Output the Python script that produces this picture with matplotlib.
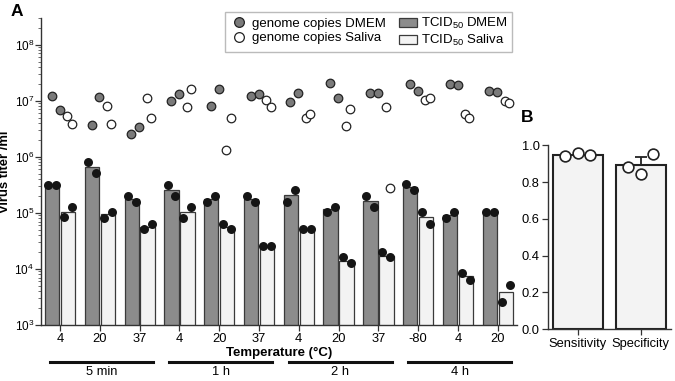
import numpy as np
import matplotlib
matplotlib.use('Agg')
import matplotlib.pyplot as plt
from matplotlib.lines import Line2D
from matplotlib.patches import Patch
from matplotlib.ticker import LogLocator, NullFormatter

plt.rcParams['font.family'] = ['Liberation Sans', 'DejaVu Sans']
plt.rcParams['mathtext.fontset'] = 'custom'
plt.rcParams['mathtext.rm'] = 'Liberation Sans'
plt.rcParams['mathtext.it'] = 'Liberation Sans:italic'
plt.rcParams['mathtext.bf'] = 'Liberation Sans:bold'

# Panel A data
temps = ['4', '20', '37', '4', '20', '37', '4', '20', '37', '-80', '4', '20']
times = ['5 min', '1 h', '2 h', '4 h']

genome_dmem = [[1.2e7, 6.9e6], [3.7e6, 1.16e7], [2.6e6, 3.4e6], [1.0e7, 1.3e7],
               [8.1e6, 1.6e7], [1.2e7, 1.3e7], [9.3e6, 1.35e7], [2.1e7, 1.12e7],
               [1.35e7, 1.35e7], [2.0e7, 1.5e7], [2.0e7, 1.9e7], [1.5e7, 1.45e7]]
genome_saliva = [[5.4e6, 3.8e6], [8.1e6, 3.9e6], [1.12e7, 5.0e6], [7.6e6, 1.6e7],
                 [1.3e6, 5.0e6], [1.05e7, 7.7e6], [5.0e6, 5.7e6], [3.6e6, 7.1e6],
                 [7.8e6, 2.8e5], [1.05e7, 1.12e7], [5.7e6, 5.0e6], [1.0e7, 9.1e6]]

tcid_dmem = [3.2e5, 6.6e5, 1.8e5, 2.6e5, 1.8e5, 1.8e5, 2.1e5, 1.15e5, 1.6e5, 2.9e5, 9.0e4, 1.0e5]
tcid_dmem_pts = [[3.2e5, 3.2e5], [8.1e5, 5.1e5], [2.0e5, 1.58e5], [3.2e5, 2.0e5],
                 [1.58e5, 2.0e5], [2.0e5, 1.58e5], [1.58e5, 2.6e5], [1.02e5, 1.28e5],
                 [2.0e5, 1.28e5], [3.3e5, 2.6e5], [8.1e4, 1.02e5], [1.02e5, 1.02e5]]
tcid_saliva = [1.05e5, 9.5e4, 5.7e4, 1.05e5, 5.7e4, 2.5e4, 5.0e4, 1.4e4, 1.7e4, 8.3e4, 7.6e3, 3.8e3]
tcid_saliva_pts = [[8.3e4, 1.28e5], [8.0e4, 1.02e5], [5.1e4, 6.4e4], [8.0e4, 1.28e5],
                   [6.4e4, 5.1e4], [2.6e4, 2.6e4], [5.1e4, 5.1e4], [1.6e4, 1.3e4],
                   [2.0e4, 1.6e4], [1.02e5, 6.3e4], [8.5e3, 6.4e3], [2.6e3, 5.2e3]]

# Panel B data
b_labels = ['Sensitivity', 'Specificity']
b_means = [0.947, 0.893]
b_err = [0.0, 0.045]
b_pts = [[0.942, 0.956, 0.946], [0.884, 0.844, 0.953]]

dark = '#8c8c8c'
light = '#f3f3f3'
edge = '#3a3a3a'

fig = plt.figure(figsize=(6.75, 3.81), dpi=100)
ax = fig.add_axes([0.0607, 0.147, 0.705, 0.806])
x = np.arange(len(temps))

ax.bar(x - 0.2, tcid_dmem, width=0.36, color=dark, edgecolor=edge, linewidth=0.9, zorder=2)
ax.bar(x + 0.2, tcid_saliva, width=0.36, color=light, edgecolor=edge, linewidth=0.9, zorder=2)

for i in range(len(temps)):
    ax.scatter([i - 0.3, i - 0.1], tcid_dmem_pts[i], s=42, color='#151515', zorder=4, linewidths=0)
    ax.scatter([i + 0.1, i + 0.3], tcid_saliva_pts[i], s=42, color='#151515', zorder=4, linewidths=0)
    ax.scatter([i - 0.21, i - 0.01], genome_dmem[i], s=38, color='#7a7a7a',
               edgecolor='#222222', linewidths=0.9, zorder=4)
    ax.scatter([i + 0.18, i + 0.29], genome_saliva[i], s=38, color='white',
               edgecolor='#222222', linewidths=0.9, zorder=4)

ax.set_yscale('log')
ax.set_ylim(1e3, 3e8)
ax.set_xlim(-0.48, 11.48)
ax.yaxis.set_major_locator(LogLocator(base=10, numticks=10))
ax.yaxis.set_minor_locator(LogLocator(base=10, subs=np.arange(2, 10), numticks=20))
ax.yaxis.set_minor_formatter(NullFormatter())
ax.set_xticks(x)
ax.set_xticklabels(temps)
ax.tick_params(axis='both', which='major', labelsize=9.3, length=4, width=0.9, color='#333333', pad=2)
ax.tick_params(axis='y', which='major', labelsize=8.5, pad=1)
ax.tick_params(axis='y', which='minor', length=2, width=0.6, color='#555555')
for s in ['top', 'right']:
    ax.spines[s].set_visible(False)
for s in ['left', 'bottom']:
    ax.spines[s].set_linewidth(1.0)
    ax.spines[s].set_color('#333333')
ax.set_ylabel('Virus titer /ml', fontsize=9.4, fontweight='bold')
ax.yaxis.set_label_coords(-0.064, 0.5)
ax.set_xlabel('Temperature (°C)', fontsize=9.5, fontweight='bold', labelpad=1)

# time groups under the axis
trans = ax.get_xaxis_transform()
for k, t in enumerate(times):
    x0 = 3 * k - 0.25
    x1 = 3 * k + 2 + 0.33
    ax.plot([x0, x1], [-0.12, -0.12], color='#111111', linewidth=2.2, transform=trans, clip_on=False)
    ax.text((x0 + x1) / 2, -0.152, t, transform=trans, ha='center', va='center', fontsize=9.3)

handles = [
    Line2D([], [], marker='o', linestyle='none', markersize=7, markerfacecolor='#7a7a7a',
           markeredgecolor='#222222', markeredgewidth=0.9),
    Line2D([], [], marker='o', linestyle='none', markersize=7, markerfacecolor='white',
           markeredgecolor='#222222', markeredgewidth=0.9),
    Patch(facecolor=dark, edgecolor=edge, linewidth=0.9),
    Patch(facecolor=light, edgecolor=edge, linewidth=0.9),
]
labels = ['genome copies DMEM', 'genome copies Saliva', 'TCID$_{50}$ DMEM', 'TCID$_{50}$ Saliva']
leg = fig.legend(handles, labels, ncol=2, loc='upper right', bbox_to_anchor=(0.7585, 0.9685),
                 bbox_transform=fig.transFigure, borderaxespad=0, fontsize=9.5, frameon=True,
                 fancybox=False, handlelength=1.4, handletextpad=0.3, columnspacing=1.0,
                 labelspacing=0.15, borderpad=0.3)
leg.get_frame().set_edgecolor('#aaaaaa')
leg.get_frame().set_linewidth(1.0)

fig.text(0.015, 0.958, 'A', fontsize=12.5, fontweight='bold', va='baseline', ha='left')

# Panel B
axb = fig.add_axes([0.812, 0.1357, 0.182, 0.483])
xb = np.arange(len(b_labels))
axb.bar(xb, b_means, width=0.79, color=light, edgecolor='#222222', linewidth=1.5, zorder=2)
axb.errorbar(xb, b_means, yerr=[[0, 0], b_err], fmt='none', ecolor='#222222',
             elinewidth=1.3, capsize=4, capthick=1.3, zorder=3)
for i in range(len(b_labels)):
    axb.scatter([i - 0.2, 0 + i, i + 0.2], b_pts[i], s=60, color='white',
                edgecolor='#222222', linewidths=1.2, zorder=4, clip_on=False)
axb.set_ylim(0, 1.0)
axb.set_xlim(-0.47, 1.48)
axb.set_yticks([0, 0.2, 0.4, 0.6, 0.8, 1.0])
axb.set_yticklabels(['0.0', '0.2', '0.4', '0.6', '0.8', '1.0'])
axb.set_xticks(xb)
axb.set_xticklabels(b_labels)
axb.tick_params(axis='both', labelsize=9.3, length=4, width=0.9, color='#333333', pad=2)
for s in ['top', 'right']:
    axb.spines[s].set_visible(False)
for s in ['left', 'bottom']:
    axb.spines[s].set_linewidth(1.0)
    axb.spines[s].set_color('#333333')
fig.text(0.771, 0.68, 'B', fontsize=12.5, fontweight='bold', va='baseline', ha='left')

fig.savefig('out.png', dpi=100)
